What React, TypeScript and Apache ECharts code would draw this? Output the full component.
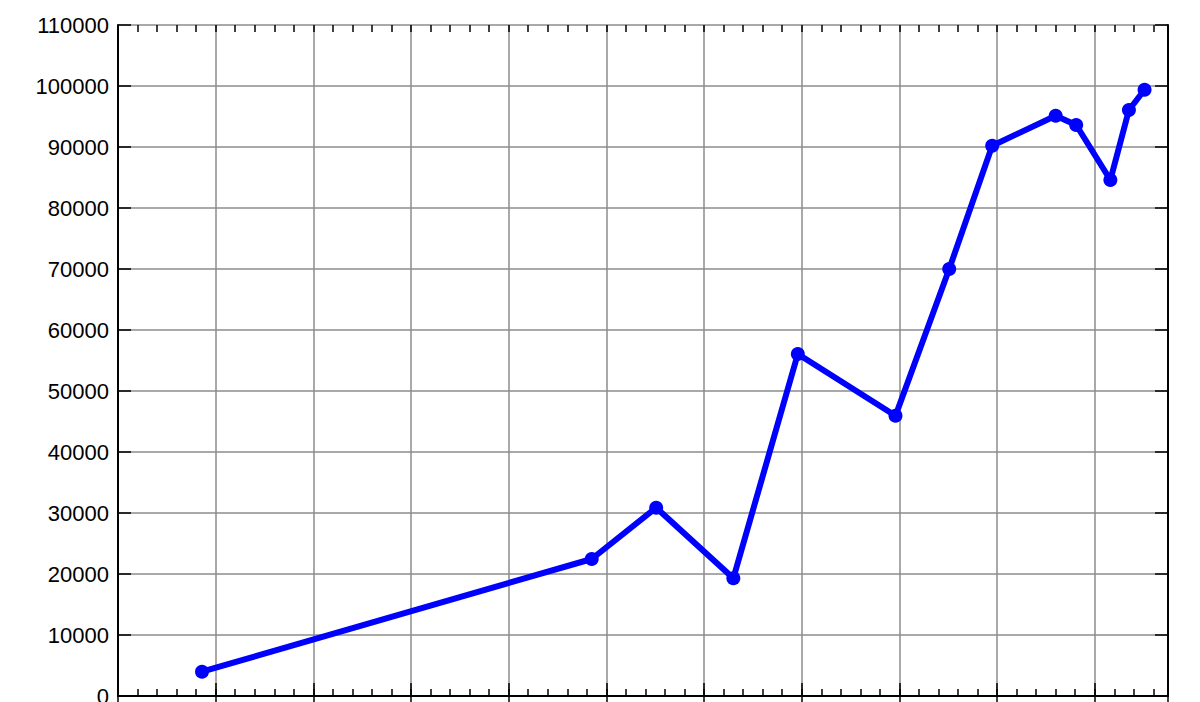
import React, { useEffect, useRef } from "react";
import * as echarts from "echarts";

const years = [1808.6, 1848.5, 1855.1, 1863.0, 1869.6, 1879.6, 1885.1, 1889.5, 1896.0, 1898.1, 1901.6, 1903.5, 1905.1];
const values = [3980, 22460, 30870, 19300, 56070, 45950, 70000, 90200, 95130, 93600, 84590, 96070, 99390];

const X_MIN = 1800;
const X_MAX = 1907.5;
const X_MAJOR = 10;
const X_MINOR = 2;
const Y_MIN = 0;
const Y_MAX = 110000;
const Y_INTERVAL = 10000;

export default function App() {
  const ref = useRef<HTMLDivElement>(null);
  useEffect(() => {
    if (!ref.current) return;
    const chart = echarts.init(ref.current, undefined, { renderer: "svg" });
    const gridPos = {
      left: 118,
      right: 32,
      top: 25,
      bottom: 6,
      containLabel: false,
      outerBoundsMode: "none",
    };
    const axisLine = { show: true, lineStyle: { color: "#000", width: 2 } };
    const split = { show: true, lineStyle: { color: "#8c8c8c", width: 1.5 } };
    const majorX = (position: string, gridIndex: number, showSplit: boolean) => ({
      type: "value",
      gridIndex,
      position,
      min: X_MIN,
      max: X_MAX,
      interval: X_MAJOR,
      axisLine,
      axisTick: { show: true, inside: true, length: 13, lineStyle: { color: "#000", width: 1.5 } },
      axisLabel: { show: false },
      splitLine: showSplit ? split : { show: false },
    });
    const minorX = (position: string, gridIndex: number) => ({
      type: "value",
      gridIndex,
      position,
      min: X_MIN,
      max: X_MAX,
      interval: X_MINOR,
      axisLine: { show: false },
      axisTick: { show: true, inside: true, length: 7, lineStyle: { color: "#000", width: 1.5 } },
      axisLabel: { show: false },
      splitLine: { show: false },
    });
    const yAx = (position: string, gridIndex: number, labels: boolean, showSplit: boolean, ticks: boolean) => ({
      type: "value",
      gridIndex,
      position,
      min: Y_MIN,
      max: Y_MAX,
      interval: Y_INTERVAL,
      axisLine: ticks ? axisLine : { show: false },
      axisTick: { show: ticks, inside: true, length: 13, lineStyle: { color: "#000", width: 1.5 } },
      axisLabel: labels
        ? {
            show: true,
            color: "#000",
            fontSize: 22,
            fontFamily: "Liberation Sans",
            margin: 9,
            formatter: (v: number) => String(v),
          }
        : { show: false },
      splitLine: showSplit ? split : { show: false },
    });
    chart.setOption({
      animation: false,
      backgroundColor: "#fff",
      grid: [gridPos, gridPos],
      xAxis: [
        majorX("bottom", 0, true),
        majorX("top", 0, false),
        minorX("bottom", 1),
        minorX("top", 1),
      ],
      yAxis: [
        yAx("left", 0, true, true, true),
        yAx("right", 0, false, false, true),
        yAx("left", 1, false, false, false),
      ],
      series: [
        {
          type: "line",
          xAxisIndex: 0,
          yAxisIndex: 0,
          data: years.map((y, i) => [y, values[i]]),
          symbol: "circle",
          symbolSize: 14,
          showSymbol: true,
          clip: false,
          lineStyle: { color: "#0000ff", width: 6 },
          itemStyle: { color: "#0000ff" },
          z: 10,
        },
      ],
    });
    return () => chart.dispose();
  }, []);
  return (
    <div
      ref={ref}
      style={{ position: "fixed", left: 0, top: 0, width: 1200, height: 702, background: "#fff" }}
    />
  );
}
